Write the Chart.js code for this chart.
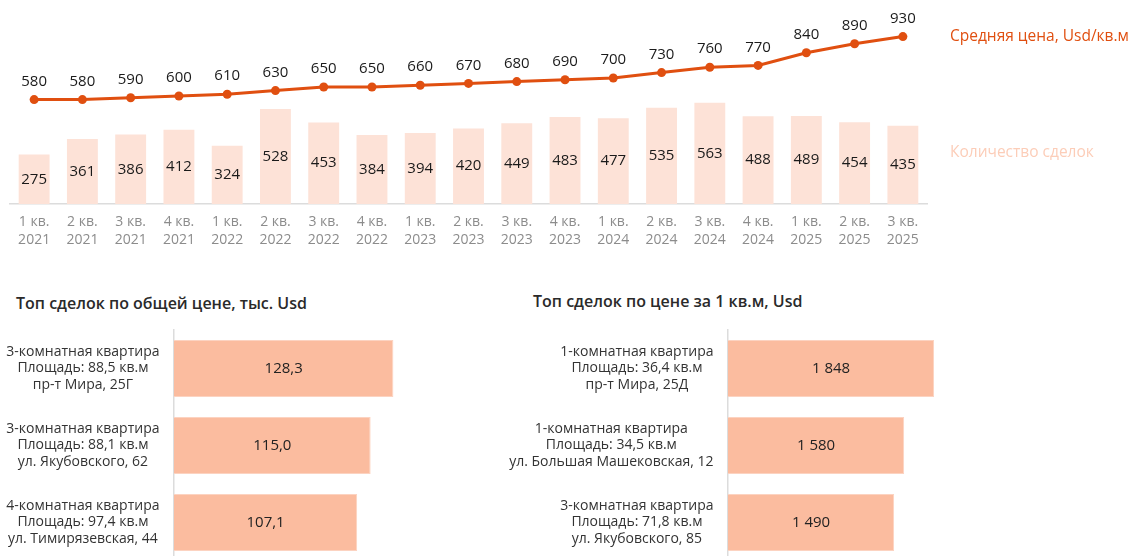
<!DOCTYPE html>
<html lang="ru">
<head>
<meta charset="utf-8">
<script src="https://cdn.jsdelivr.net/npm/chart.js@4.4.1/dist/chart.umd.min.js"></script>
<style>
  html, body { margin: 0; padding: 0; background: #fff; overflow: hidden; width: 1130px; height: 556px; }
  body { position: relative; font-family: "Open Sans", sans-serif; }
  .box { position: absolute; }
  #topBox { left: 0; top: 0; width: 1130px; height: 260px; }
  #leftBox { left: 0; top: 280px; width: 520px; height: 281px; }
  #rightBox { left: 470px; top: 280px; width: 660px; height: 281px; }
  .title { position: absolute; font-size: 16px; font-weight: 600; color: #2a2a2a; white-space: nowrap; line-height: 20px; }
</style>
</head>
<body>
<div class="title" style="left:16px;top:293px;">Топ сделок по общей цене, тыс. Usd</div>
<div class="title" style="left:533px;top:291px;">Топ сделок по цене за 1 кв.м, Usd</div>
<div class="box" id="topBox"><canvas id="trend"></canvas></div>
<div class="box" id="leftBox"><canvas id="topTotal"></canvas></div>
<div class="box" id="rightBox"><canvas id="topSqm"></canvas></div>

<script>
// quarters
const quarters = [
  ['1 кв.', '2021'], ['2 кв.', '2021'], ['3 кв.', '2021'], ['4 кв.', '2021'],
  ['1 кв.', '2022'], ['2 кв.', '2022'], ['3 кв.', '2022'], ['4 кв.', '2022'],
  ['1 кв.', '2023'], ['2 кв.', '2023'], ['3 кв.', '2023'], ['4 кв.', '2023'],
  ['1 кв.', '2024'], ['2 кв.', '2024'], ['3 кв.', '2024'], ['4 кв.', '2024'],
  ['1 кв.', '2025'], ['2 кв.', '2025'], ['3 кв.', '2025']
];
const dealCount = [275, 361, 386, 412, 324, 528, 453, 384, 394, 420, 449, 483, 477, 535, 563, 488, 489, 454, 435];
const avgPrice = [580, 580, 590, 600, 610, 630, 650, 650, 660, 670, 680, 690, 700, 730, 760, 770, 840, 890, 930];

// top deals
const totalLabels = [
  ['3-комнатная квартира', 'Площадь: 88,5 кв.м', 'пр-т Мира, 25Г'],
  ['3-комнатная квартира', 'Площадь: 88,1 кв.м', 'ул. Якубовского, 62'],
  ['4-комнатная квартира', 'Площадь: 97,4 кв.м', 'ул. Тимирязевская, 44']
];
const totalValues = [128.3, 115.0, 107.1];

const sqmLabels = [
  ['1-комнатная квартира', 'Площадь: 36,4 кв.м', 'пр-т Мира, 25Д'],
  ['1-комнатная квартира', 'Площадь: 34,5 кв.м', 'ул. Большая Машековская, 12'],
  ['3-комнатная квартира', 'Площадь: 71,8 кв.м', 'ул. Якубовского, 85']
];
const sqmValues = [1848, 1580, 1490];

const FONT = '"Open Sans", sans-serif';
const ORANGE = '#e04f10';
const PEACH = '#fde2d7';
const SALMON = '#fbbc9f';

Chart.defaults.font.family = FONT;
Chart.defaults.animation = false;

function spaced(n) {
  return String(n).replace(/\B(?=(\d{3})+(?!\d))/g, ' ');
}

// values on top chart + side captions
const trendLabels = {
  id: 'trendLabels',
  afterDatasetsDraw(chart) {
    const ctx = chart.ctx;
    ctx.save();
    ctx.font = '15px ' + FONT;
    ctx.fillStyle = '#1a1a1a';
    ctx.textAlign = 'center';
    ctx.textBaseline = 'middle';
    chart.getDatasetMeta(1).data.forEach((el, i) => {
      ctx.fillText(dealCount[i], el.x, (el.y + el.base) / 2);
    });
    chart.getDatasetMeta(0).data.forEach((el, i) => {
      ctx.fillText(avgPrice[i], el.x, el.y - 18);
    });

    const pts = chart.getDatasetMeta(0).data;
    const last = pts[pts.length - 1];
    const x0 = chart.chartArea.right + 23;
    ctx.textAlign = 'left';
    ctx.font = '15.5px ' + FONT;
    ctx.fillStyle = ORANGE;
    ctx.fillText('Средняя цена, Usd/кв.м', x0, last.y);
    ctx.fillStyle = '#fccdb8';
    ctx.fillText('Количество сделок', x0, chart.scales.y.getPixelForValue(285));
    ctx.restore();
  }
};

new Chart(document.getElementById('trend'), {
  data: {
    labels: quarters,
    datasets: [
      {
        type: 'line',
        label: 'Средняя цена, Usd/кв.м',
        data: avgPrice,
        borderColor: ORANGE,
        backgroundColor: ORANGE,
        borderWidth: 3,
        pointRadius: 4.5,
        pointBackgroundColor: ORANGE,
        pointBorderWidth: 0,
        tension: 0,
        order: 0
      },
      {
        type: 'bar',
        label: 'Количество сделок',
        data: dealCount,
        backgroundColor: PEACH,
        categoryPercentage: 1,
        barPercentage: 0.64,
        order: 1
      }
    ]
  },
  options: {
    responsive: true,
    maintainAspectRatio: false,
    layout: { padding: { left: 10, right: 203, top: 24, bottom: 0 } },
    plugins: { legend: { display: false }, tooltip: { enabled: false } },
    scales: {
      x: {
        grid: { display: false, drawTicks: false },
        border: { display: true, color: '#dcdcdc', width: 1.5 },
        ticks: { color: '#8c8c8c', font: { size: 14, lineHeight: 1.29 }, padding: 9, maxRotation: 0, autoSkip: false },
        afterFit(s) { s.height = 56; }
      },
      y: { display: false, min: 0, max: 1000 }
    }
  },
  plugins: [trendLabels]
});

// horizontal bar charts
function dealChart(id, labels, values, axisWidth, max, padRight, fmt) {
  const sideLabels = {
    id: 'sideLabels',
    afterDraw(chart) {
      const ctx = chart.ctx;
      const ys = chart.scales.y;
      ctx.save();
      ctx.font = '14px ' + FONT;
      ctx.fillStyle = '#333';
      ctx.textAlign = 'center';
      ctx.textBaseline = 'middle';
      labels.forEach((lines, i) => {
        const w = Math.max(...lines.map(l => ctx.measureText(l).width));
        const cx = ys.right - 14.5 - w / 2;
        const cy = ys.getPixelForTick(i);
        lines.forEach((l, j) => ctx.fillText(l, cx, cy + (j - (lines.length - 1) / 2) * 16.7));
      });
      ctx.font = '15px ' + FONT;
      ctx.fillStyle = '#222';
      chart.getDatasetMeta(0).data.forEach((el, i) => {
        ctx.fillText(fmt(values[i]), (el.x + el.base) / 2, el.y);
      });
      ctx.restore();
    }
  };

  return new Chart(document.getElementById(id), {
    type: 'bar',
    data: {
      labels: labels,
      datasets: [{
        data: values,
        backgroundColor: SALMON,
        borderColor: '#fcd3c1',
        borderWidth: 1,
        categoryPercentage: 1,
        barPercentage: 0.74
      }]
    },
    options: {
      indexAxis: 'y',
      responsive: true,
      maintainAspectRatio: false,
      layout: { padding: { left: 0, right: padRight, top: 50, bottom: 0 } },
      plugins: { legend: { display: false }, tooltip: { enabled: false } },
      scales: {
        x: { display: false, min: 0, max: max },
        y: {
          grid: { display: false, drawTicks: false },
          border: { display: true, color: '#dcdcdc', width: 1.5 },
          ticks: { display: false },
          afterFit(s) { s.width = axisWidth; }
        }
      }
    },
    plugins: [sideLabels]
  });
}

dealChart('topTotal', totalLabels, totalValues, 174, 200, 4, v => v.toFixed(1).replace('.', ','));
dealChart('topSqm', sqmLabels, sqmValues, 258, 3000, 67.5, v => spaced(v));
</script>
</body>
</html>
